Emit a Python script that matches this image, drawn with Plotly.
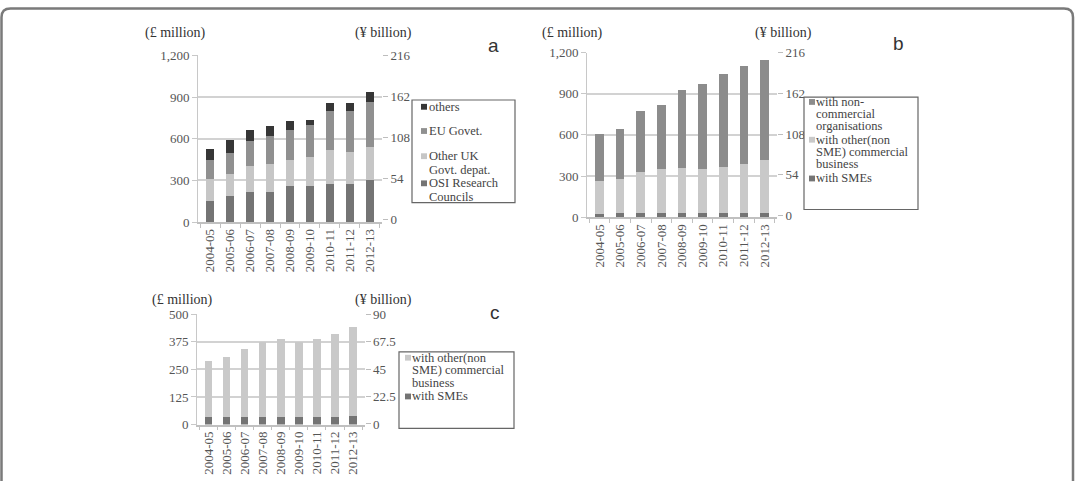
import plotly.graph_objects as go

W, H = 1075, 481

years = ["2004-05", "2005-06", "2006-07", "2007-08", "2008-09",
         "2009-10", "2010-11", "2011-12", "2012-13"]

# Panel a (£ million)
a_osi = [155, 185, 219, 219, 261, 261, 277, 277, 300]
a_other_uk = [156, 161, 185, 196, 189, 205, 242, 231, 242]
a_eu = [139, 155, 180, 208, 212, 231, 282, 293, 323]
a_others = [76, 87, 78, 69, 65, 41, 60, 60, 70]
a_names = ["OSI Research\nCouncils", "Other UK\nGovt. depat.", "EU Govet.", "others"]
a_colors = ["#747474", "#c6c6c6", "#909090", "#363636"]

# Panel b (£ million)
b_sme = [27, 28, 28, 28, 28, 28, 28, 29, 30]
b_other = [234, 251, 298, 321, 328, 321, 340, 358, 390]
b_noncom = [345, 363, 445, 471, 570, 621, 673, 712, 726]
b_names = ["with SMEs", "with other(non\nSME) commercial\nbusiness",
           "with non-\ncommercial\norganisations"]
b_colors = ["#747474", "#c9c9c9", "#8c8c8c"]

# Panel c (£ million)
c_sme = [33, 35, 35, 33, 35, 35, 36, 36, 38]
c_other = [255, 273, 308, 340, 353, 338, 352, 372, 405]
c_names = ["with SMEs", "with other(non\nSME) commercial\nbusiness"]
c_colors = ["#747474", "#c9c9c9"]

YEN_PER_POUND = 0.18  # ¥ billion per £ million

FONT = "Liberation Serif"


def px(x):
    return x / W


def py(y):
    return 1 - y / H


fig = go.Figure()


def add_bars(xa, ya, yr, series, names, colors):
    for vals, n, c in zip(series, names, colors):
        fig.add_trace(go.Bar(
            x=years, y=vals, name=n.replace("\n", " "),
            marker=dict(color=c, line=dict(width=0)),
            xaxis=xa, yaxis=ya, showlegend=False, width=0.42))
    totals = [sum(v) for v in zip(*series)]
    # invisible companion trace so that the ¥ axis is drawn
    fig.add_trace(go.Scatter(
        x=years, y=[t * YEN_PER_POUND for t in totals], mode="markers",
        marker=dict(opacity=0, size=1), xaxis=xa, yaxis=yr,
        showlegend=False, hoverinfo="skip"))


add_bars("x", "y", "y2", [a_osi, a_other_uk, a_eu, a_others], a_names, a_colors)
add_bars("x2", "y3", "y4", [b_sme, b_other, b_noncom], b_names, b_colors)
add_bars("x3", "y5", "y6", [c_sme, c_other], c_names, c_colors)

tickfont = dict(family=FONT, size=13, color="#555")


def xaxis(dom, anchor):
    return dict(domain=dom, anchor=anchor, type="category",
                showline=True, linecolor="#c0c0c0", linewidth=1.5,
                ticks="outside", ticklen=4, tickcolor="#c0c0c0",
                tickson="boundaries", tickangle=-90, tickfont=tickfont,
                showgrid=False, zeroline=False, fixedrange=True)


def yleft(dom, anchor, rng, dtick):
    return dict(domain=dom, anchor=anchor, range=rng, dtick=dtick,
                tickformat=",", showline=True, linecolor="#c8c8c8",
                ticks="outside", ticklen=5, tickcolor="#c8c8c8",
                showgrid=True, gridcolor="#d2d2d2", gridwidth=1.5,
                zeroline=False, tickfont=tickfont)


def yright(over, anchor, rng, dtick):
    return dict(overlaying=over, anchor=anchor, side="right", range=rng,
                dtick=dtick, showline=False, showgrid=False, zeroline=False,
                ticks="outside", ticklen=5, tickcolor="#bdbdbd",
                tickfont=tickfont)


fig.update_layout(
    width=W, height=H,
    margin=dict(l=0, r=0, t=0, b=0),
    paper_bgcolor="white", plot_bgcolor="white",
    barmode="stack", bargap=0.58,
    showlegend=False,
    xaxis=xaxis([px(198), px(382)], "y"),
    yaxis=yleft([py(222), py(50)], "x", [0, 1200], 300),
    yaxis2=yright("y", "x", [-3, 216.5], 54),
    xaxis2=xaxis([px(587), px(777)], "y3"),
    yaxis3=yleft([py(217), py(47)], "x2", [0, 1200], 300),
    yaxis4=yright("y3", "x2", [-2.5, 216.5], 54),
    xaxis3=xaxis([px(197), px(364.5)], "y5"),
    yaxis5=yleft([py(431), py(317)], "x3", [0, 500], 125),
    yaxis6=yright("y5", "x3", [-0.5, 90.3], 22.5),
)

# unit labels
for txt, x, y in [("(£ million)", 176, 27), ("(¥ billion)", 383, 27),
                  ("(£ million)", 572, 27), ("(¥ billion)", 783, 27),
                  ("(£ million)", 182, 302), ("(¥ billion)", 383, 302)]:
    fig.add_annotation(x=px(x), y=py(y), xref="paper", yref="paper",
                       text=txt, showarrow=False, xanchor="center",
                       yanchor="middle",
                       font=dict(family=FONT, size=14, color="#333"))

# panel letters
for txt, x, y in [("a", 493, 40), ("b", 898, 38), ("c", 495, 315)]:
    fig.add_annotation(x=px(x), y=py(y), xref="paper", yref="paper",
                       text=txt, showarrow=False, xanchor="center",
                       yanchor="middle",
                       font=dict(family="Liberation Sans", size=19,
                                 color="#333"))


def add_legend(box, names, colors, mark_x, text_x, ys, step=13):
    x0, y0, x1, y1 = box
    fig.add_shape(type="rect", xref="paper", yref="paper",
                  x0=px(x0), x1=px(x1), y0=py(y1), y1=py(y0),
                  line=dict(color="#666", width=1.2), fillcolor="white",
                  layer="above")
    for name, col, yy in zip(names, colors, ys):
        fig.add_shape(type="rect", xref="paper", yref="paper",
                      x0=px(mark_x), x1=px(mark_x + 6),
                      y0=py(yy + 3), y1=py(yy - 3),
                      line=dict(width=0), fillcolor=col, layer="above")
        for i, line in enumerate(name.split("\n")):
            fig.add_annotation(x=px(text_x), y=py(yy + i * step),
                               xref="paper", yref="paper", text=line,
                               showarrow=False, xanchor="left",
                               yanchor="middle", borderpad=0,
                               font=dict(family=FONT, size=12.5,
                                         color="#444"))


add_legend((412, 96, 515, 202), a_names[::-1], a_colors[::-1],
           421, 428, [103, 128, 154, 182], step=14.5)
add_legend((804, 93, 918, 209), b_names[::-1], b_colors[::-1],
           809, 815, [98, 137, 177], step=12.5)
add_legend((399, 356, 514, 435), c_names[::-1], c_colors[::-1],
           405, 411, [362, 402], step=13)

# outer rounded frame
r = 9
fx0, fx1, fy0, fy1 = 1.5, 1073, 1.5, 520
path = (f"M {px(fx0)},{py(fy1)} L {px(fx0)},{py(fy0 + r)} "
        f"Q {px(fx0)},{py(fy0)} {px(fx0 + r)},{py(fy0)} "
        f"L {px(fx1 - r)},{py(fy0)} "
        f"Q {px(fx1)},{py(fy0)} {px(fx1)},{py(fy0 + r)} "
        f"L {px(fx1)},{py(fy1)}")
fig.add_shape(type="path", xref="paper", yref="paper", path=path,
              line=dict(color="#7a7a7a", width=2.5))

fig.write_html("out.html",
               post_script="document.body.style.margin='0px';"
                           "document.body.style.overflow='hidden';")
